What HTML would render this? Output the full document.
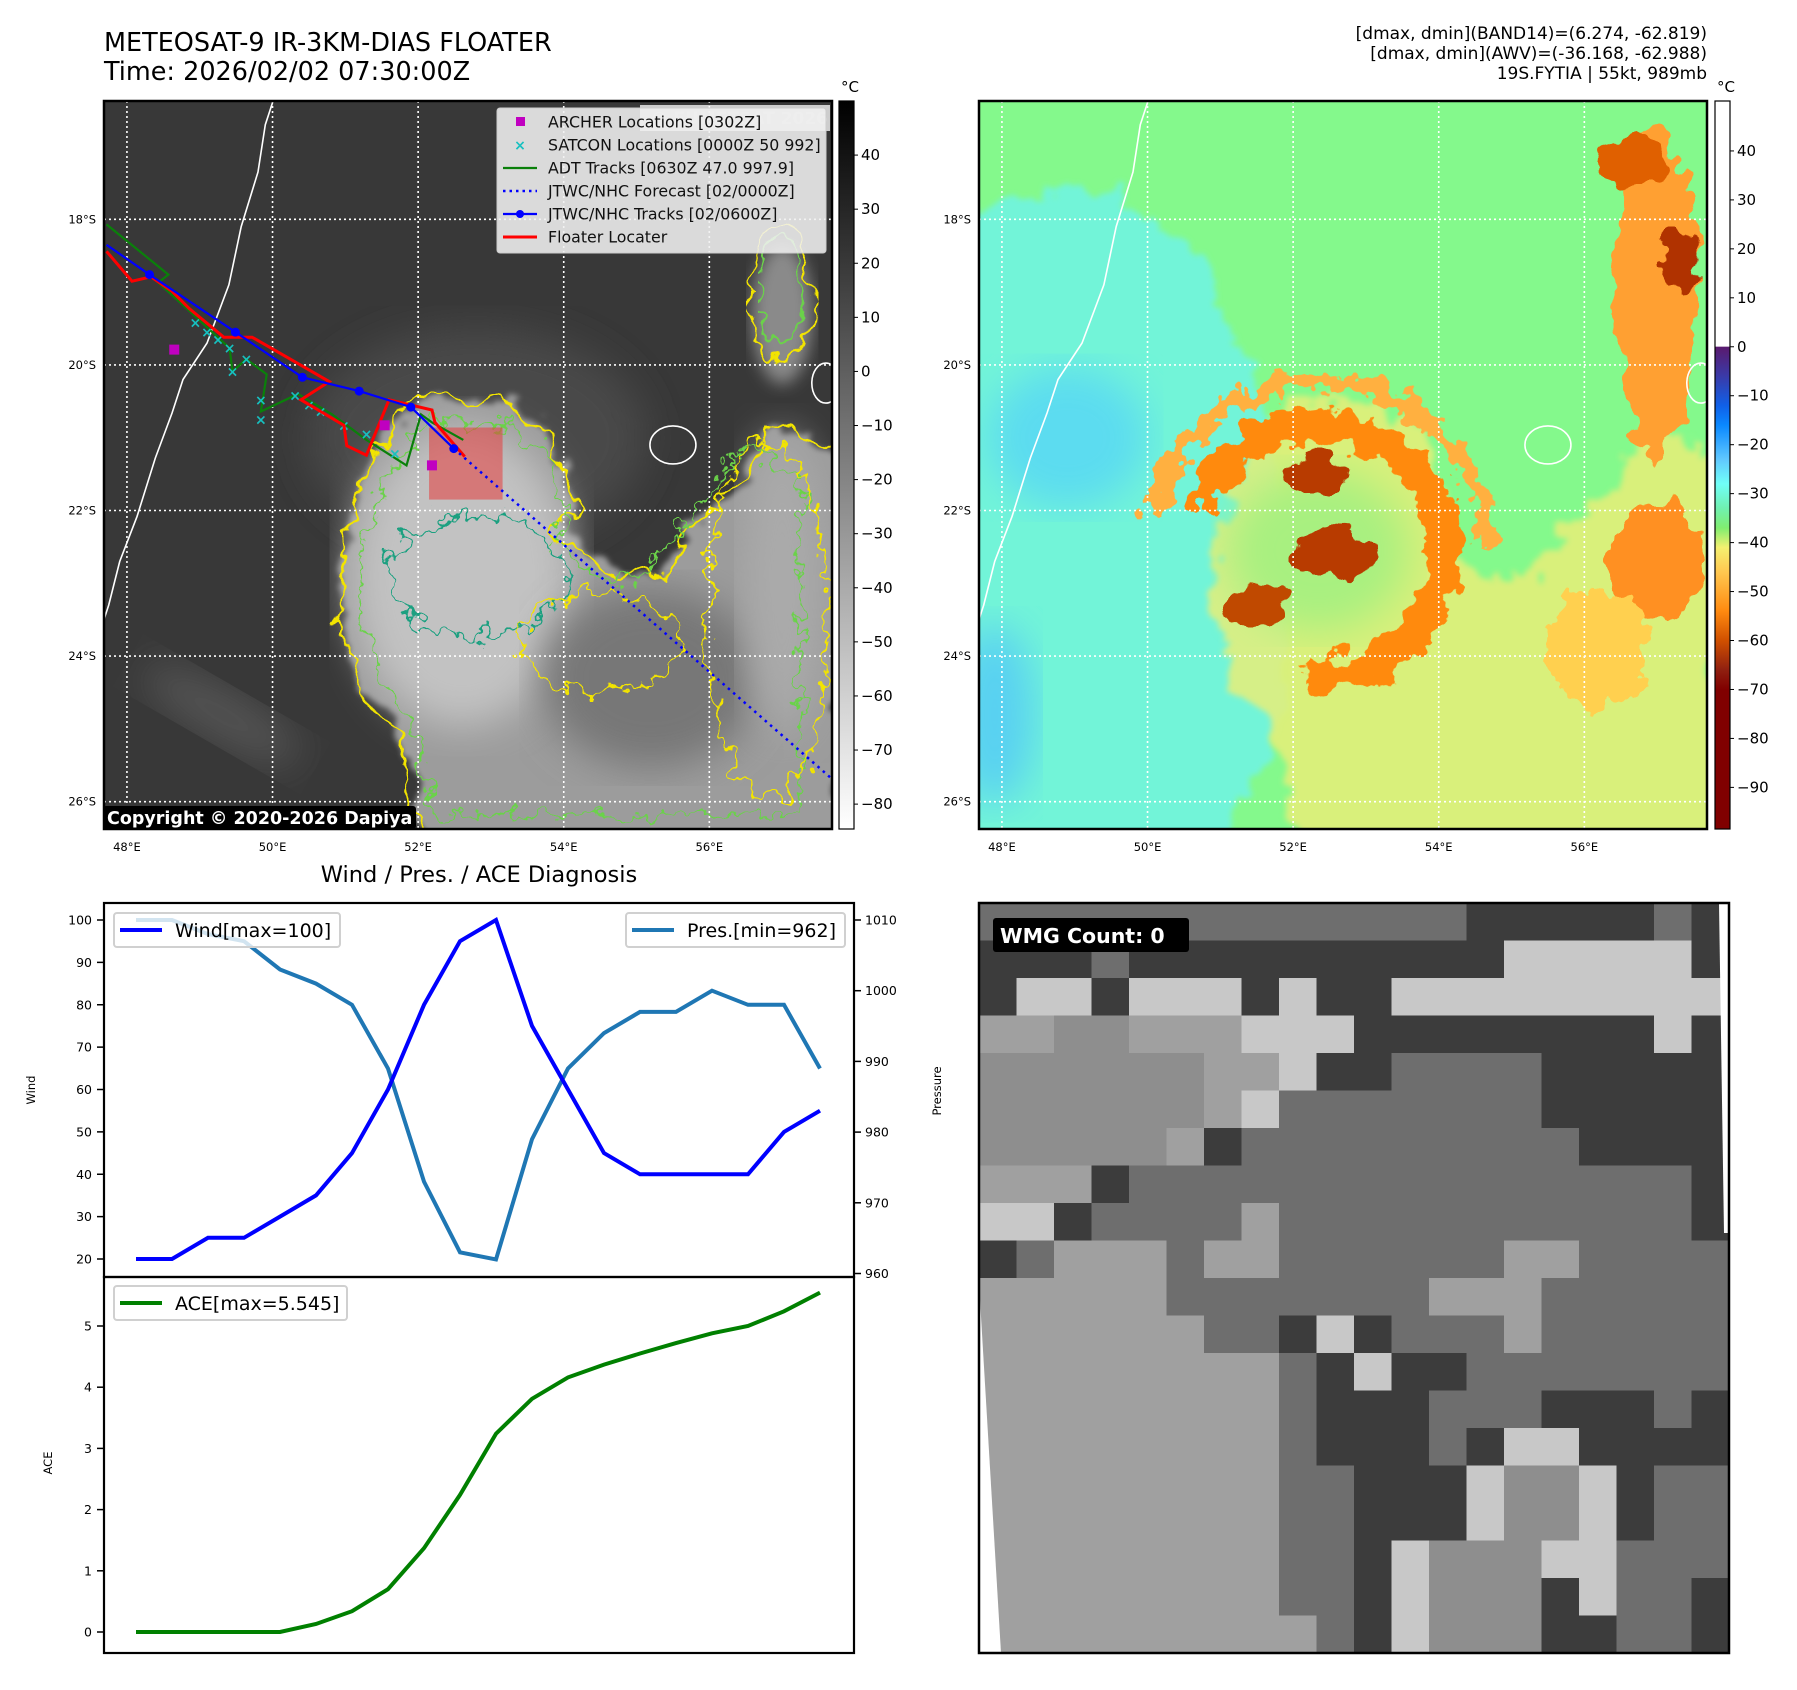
<!DOCTYPE html>
<html><head><meta charset="utf-8">
<style>
html,body{margin:0;padding:0;background:#fff;}
svg{display:block;font-family:"DejaVu Sans","Liberation Sans",sans-serif;}
</style></head>
<body>
<svg id="root" width="1797" height="1690" viewBox="0 0 1797 1690" xmlns="http://www.w3.org/2000/svg">
<defs>
  <filter id="wob" x="-10%" y="-10%" width="120%" height="120%">
    <feTurbulence type="fractalNoise" baseFrequency="0.035" numOctaves="3" seed="4" result="n"/>
    <feDisplacementMap in="SourceGraphic" in2="n" scale="34" xChannelSelector="R" yChannelSelector="G"/>
  </filter>
  <filter id="wob2" x="-10%" y="-10%" width="120%" height="120%">
    <feTurbulence type="fractalNoise" baseFrequency="0.05" numOctaves="3" seed="9" result="n"/>
    <feDisplacementMap in="SourceGraphic" in2="n" scale="40" xChannelSelector="R" yChannelSelector="G"/>
  </filter>
  <filter id="blur8"><feGaussianBlur stdDeviation="8"/></filter>
  <filter id="blur20"><feGaussianBlur stdDeviation="20"/></filter>
  <filter id="wobblur" x="-10%" y="-10%" width="120%" height="120%">
    <feTurbulence type="fractalNoise" baseFrequency="0.04" numOctaves="3" seed="2" result="n"/>
    <feDisplacementMap in="SourceGraphic" in2="n" scale="40" xChannelSelector="R" yChannelSelector="G" result="d"/>
    <feGaussianBlur in="d" stdDeviation="3"/>
  </filter>
  <clipPath id="clip1"><rect x="104" y="101" width="728" height="728"/></clipPath>
  <clipPath id="clip2"><rect x="979" y="101" width="728" height="728"/></clipPath>
  <clipPath id="clip3"><rect x="979" y="903" width="750" height="750"/></clipPath>
  <linearGradient id="cbGray" x1="0" y1="0" x2="0" y2="1">
    <stop offset="0" stop-color="#000"/><stop offset="1" stop-color="#fff"/>
  </linearGradient>
</defs>

<text x="104" y="51" font-size="25.5">METEOSAT-9 IR-3KM-DIAS FLOATER</text>
<text x="104" y="80" font-size="25.5">Time: 2026/02/02 07:30:00Z</text>
<g font-size="17" text-anchor="end">
  <text x="1707" y="39">[dmax, dmin](BAND14)=(6.274, -62.819)</text>
  <text x="1707" y="59">[dmax, dmin](AWV)=(-36.168, -62.988)</text>
  <text x="1707" y="79">19S.FYTIA | 55kt, 989mb</text>
</g>

<g id="map1"></g>
<g id="map2"></g>
<g id="cb1"></g>
<g id="cb2"></g>
<g id="diag"></g>
<g id="wmg"></g>
</svg>

<script>
// ---------------- DATA ----------------
var windValues = [20,20,25,25,30,35,45,60,80,95,100,75,60,45,40,40,40,40,50,55];
var presValues = [1010,1010,1008,1007,1003,1001,998,989,973,963,962,979,989,994,997,997,1000,998,998,989];
var aceValues  = [0,0,0,0,0,0.13,0.34,0.70,1.37,2.24,3.24,3.81,4.16,4.37,4.55,4.72,4.88,5.0,5.24,5.545];
var windTicks = [20,30,40,50,60,70,80,90,100];
var presTicks = [960,970,980,990,1000,1010];
var aceTicks  = [0,1,2,3,4,5];
var lonTicks = [48,50,52,54,56];
var latTicks = [18,20,22,24,26];
var grayCbTicks = [40,30,20,10,0,-10,-20,-30,-40,-50,-60,-70,-80];
var colorCbTicks = [40,30,20,10,0,-10,-20,-30,-40,-50,-60,-70,-80,-90];
var jtwcTrackLon = [47.72,48.31,49.49,50.41,51.19,51.90,52.49];
var jtwcTrackLat = [18.35,18.76,19.55,20.17,20.36,20.58,21.15];
var forecastLon = [52.49,57.70];
var forecastLat = [21.15,25.70];
var floaterLon = [47.72,48.07,48.33,48.62,48.86,49.33,49.72,50.78,50.39,50.66,50.98,51.02,51.29,51.60,52.19,52.23,52.64];
var floaterLat = [18.44,18.85,18.79,18.99,19.23,19.62,19.62,20.23,20.48,20.64,20.83,21.11,21.24,20.48,20.62,20.79,21.26];
var adtLon = [47.72,48.57,48.43,48.86,49.41,49.45,49.64,49.92,49.84,50.35,50.82,51.29,51.84,52.04,52.19,52.62];
var adtLat = [18.07,18.76,18.87,19.26,19.77,20.09,19.92,20.13,20.64,20.40,20.68,21.03,21.38,20.68,20.79,21.03];
var satconLon = [48.94,49.10,49.25,49.41,49.45,49.64,49.84,49.84,50.31,50.50,50.66,50.98,51.29,51.68];
var satconLat = [19.42,19.55,19.65,19.77,20.09,19.92,20.48,20.75,20.42,20.55,20.64,20.83,20.95,21.22];
var archerLon = [48.65,51.54,52.19];
var archerLat = [19.79,20.83,21.38];
var coastLon = [50.00,49.90,49.80,49.57,49.40,49.10,48.77,48.62,48.39,48.14,47.90,47.75,47.65];
var coastLat = [16.40,16.70,17.35,18.10,18.90,19.70,20.20,20.66,21.28,22.08,22.70,23.30,23.60];
var cloudLon = [51.95,53.21,53.84,54.16,53.92,54.63,55.34,55.73,56.13,56.52,56.84,57.31,57.80,57.80,52.11,51.79,51.24,50.92,51.00,51.40];
var cloudLat = [20.43,20.51,20.98,21.93,22.32,22.88,22.88,22.25,21.93,21.46,20.83,20.98,21.30,26.60,26.60,25.24,24.45,23.51,22.25,21.22];
var wmgGrid = [
"MMMMMMMMMMMMMDDDDDMD",
"DDDMDDDDDDDDDDWWWWWD",
"DWWDWWWDWDDWWWWWWWWW",
"LLGGLLLWWWDDDDDDDDWD",
"GGGGGGLLWDDMMMMDDDDD",
"GGGGGGLWMMMMMMMDDDDD",
"GGGGGLDMMMMMMMMMDDDD",
"LLLDMMMMMMMMMMMMMMMD",
"WWDMMMMLMMMMMMMMMMMD",
"DMLLLMLLMMMMMMLLMMMM",
"LLLLLMMMMMMMLLLMMMMM",
"LLLLLLMMDWDMMMLMMMMM",
"LLLLLLLLMDWDDMMMMMMM",
"LLLLLLLLMDDDMMMDDDMD",
"LLLLLLLLMDDDMDWWDDDD",
"LLLLLLLLMMDDDWGGWDMM",
"LLLLLLLLMMDDDWGGWDMM",
"LLLLLLLLMMDWGGGWWMMM",
"LLLLLLLLMMDWGGGDWMMD",
"LLLLLLLLLMDWGGGDDMMD"];

// ---------------- HELPERS ----------------
var NS = "http://www.w3.org/2000/svg";
function mk(tag, attrs, parent){
  var e = document.createElementNS(NS, tag);
  for (var k in attrs) e.setAttribute(k, attrs[k]);
  if (parent) parent.appendChild(e);
  return e;
}
var MAP_LON0 = 47.685, MAP_LAT0 = 16.375, DEG = 72.8, MAP_TOP = 101;
function mx(lon, off){ return off + (lon - MAP_LON0) * DEG; }
function my(lat){ return MAP_TOP + (lat - MAP_LAT0) * DEG; }
function pts(lons, lats, off){
  var s = [];
  for (var i = 0; i < lons.length; i++) s.push(mx(lons[i], off).toFixed(1) + "," + my(lats[i]).toFixed(1));
  return s.join(" ");
}

// ---------------- MAPS ----------------
function drawMap(gid, off, clipId, enhanced){
  var root = document.getElementById(gid);
  var g = mk("g", {"clip-path": "url(#" + clipId + ")"}, root);
  var cloudPts = pts(cloudLon, cloudLat, off);
  var cx = mx(53.2, off), cy = my(23.2);
  if (!enhanced){
    var bg = mk("rect", {x: off, y: 101, width: 728, height: 728, fill: "#383838"}, g);
    
    
    mk("ellipse", {cx: mx(49.3, off), cy: my(24.8), rx: 90, ry: 25, fill: "#555", filter: "url(#blur20)", transform: "rotate(30 " + mx(49.3, off) + " " + my(24.8) + ")"}, g);
    mk("ellipse", {cx: mx(52.8, off), cy: my(21.0), rx: 170, ry: 110, fill: "#4a4a4a", filter: "url(#blur20)"}, g);
    var cl = mk("polygon", {points: cloudPts, fill: "#9c9c9c", filter: "url(#wobblur)"}, g);
    
    
    mk("ellipse", {cx: mx(52.6, off), cy: my(22.9), rx: 110, ry: 150, fill: "#c2c2c2", filter: "url(#blur20)"}, g);
    mk("ellipse", {cx: mx(55.2, off), cy: my(24.3), rx: 110, ry: 90, fill: "#777", filter: "url(#blur20)"}, g);
    mk("ellipse", {cx: mx(57.0, off), cy: my(23.0), rx: 40, ry: 150, fill: "#aaa", filter: "url(#blur20)"}, g);
    mk("ellipse", {cx: mx(57.0, off), cy: my(19.3), rx: 30, ry: 70, fill: "#8a8a8a", filter: "url(#blur8)"}, g);
    var yc = mk("polygon", {points: cloudPts, fill: "none", stroke: "#f2e400", "stroke-width": 2.5, filter: "url(#wob)"}, g);
    
    
    var gc = mk("polygon", {points: cloudPts, fill: "none", stroke: "#6bd24a", "stroke-width": 2.2, filter: "url(#wob2)", transform: "translate(" + (cx*0.12) + "," + (cy*0.12) + ") scale(0.88)"}, g);
    
    
    mk("ellipse", {cx: mx(52.8, off), cy: my(22.9), rx: 90, ry: 60, fill: "none", stroke: "#1aa080", "stroke-width": 2.2, filter: "url(#wob2)"}, g);
    mk("ellipse", {cx: mx(54.5, off), cy: my(23.8), rx: 80, ry: 50, fill: "none", stroke: "#f2e400", "stroke-width": 2.2, filter: "url(#wob2)"}, g);
    mk("ellipse", {cx: mx(57.0, off), cy: my(19.0), rx: 30, ry: 70, fill: "none", stroke: "#f2e400", "stroke-width": 2.5, filter: "url(#wob)"}, g);
    mk("ellipse", {cx: mx(57.0, off), cy: my(19.0), rx: 20, ry: 55, fill: "none", stroke: "#6bd24a", "stroke-width": 2.2, filter: "url(#wob)"}, g);
    mk("ellipse", {cx: mx(56.8, off), cy: my(23.5), rx: 60, ry: 180, fill: "none", stroke: "#f2e400", "stroke-width": 2.5, filter: "url(#wob2)"}, g);
  } else {
    var bg2 = mk("rect", {x: off, y: 101, width: 728, height: 728, fill: "#84f98c"}, g);
    
    
    var cy1 = mk("polygon", {points: pts([47.5,49.5,50.8,51.6,52.0,51.8,51.0,47.5],[17.8,17.6,18.6,20.5,22.5,25.0,26.8,26.8], off), fill: "#72f4d8", filter: "url(#wobblur)"}, g);
    
    
    mk("ellipse", {cx: mx(48.9, off), cy: my(21.0), rx: 80, ry: 70, fill: "#5cdcf0", filter: "url(#blur20)"}, g);
    mk("ellipse", {cx: mx(47.9, off), cy: my(24.8), rx: 40, ry: 90, fill: "#58d0f2", filter: "url(#blur20)"}, g);
    var c2 = mk("polygon", {points: cloudPts, fill: "#e8ee78", "fill-opacity": 0.85, filter: "url(#wobblur)"}, g);
    
    
    mk("ellipse", {cx: mx(52.35, off), cy: my(22.55), rx: 90, ry: 80, fill: "#a8f080", filter: "url(#blur20)"}, g);
    mk("ellipse", {cx: mx(57.0, off), cy: my(19.0), rx: 40, ry: 170, fill: "#ffa030", filter: "url(#wob)"}, g);
    mk("ellipse", {cx: mx(57.0, off), cy: my(22.7), rx: 45, ry: 60, fill: "#ff9020", filter: "url(#wob)"}, g);
    var ring = mk("circle", {cx: mx(52.35, off), cy: my(22.55), r: 125, fill: "none", stroke: "#ff8a10", "stroke-width": 34, "stroke-dasharray": "560 300", transform: "rotate(200 " + mx(52.35, off) + " " + my(22.55) + ")", filter: "url(#wob2)"}, g);
    
    
    mk("circle", {cx: mx(52.35, off), cy: my(22.55), r: 170, fill: "none", stroke: "#ffb040", "stroke-width": 18, "stroke-dasharray": "500 570", transform: "rotate(190 " + mx(52.35, off) + " " + my(22.55) + ")", filter: "url(#wob2)"}, g);
    mk("ellipse", {cx: mx(52.3, off), cy: my(21.5), rx: 30, ry: 22, fill: "#b83a00", filter: "url(#wob)"}, g);
    mk("ellipse", {cx: mx(52.6, off), cy: my(22.6), rx: 40, ry: 26, fill: "#b83a00", filter: "url(#wob)"}, g);
    mk("ellipse", {cx: mx(51.5, off), cy: my(23.3), rx: 30, ry: 20, fill: "#c04800", filter: "url(#wob)"}, g);
    mk("ellipse", {cx: mx(57.3, off), cy: my(18.6), rx: 20, ry: 30, fill: "#b03000", filter: "url(#wob)"}, g);
    mk("ellipse", {cx: mx(56.7, off), cy: my(17.2), rx: 40, ry: 25, fill: "#e06000", filter: "url(#wob)"}, g);
    mk("ellipse", {cx: mx(56.2, off), cy: my(23.9), rx: 50, ry: 60, fill: "#ffd050", filter: "url(#wob2)"}, g);
  }
  for (var i = 0; i < lonTicks.length; i++){
    var x = mx(lonTicks[i], off);
    var gl = mk("line", {x1: x, y1: 101, x2: x, y2: 829, stroke: "#fff", "stroke-width": 1.6, "stroke-dasharray": "2,3"}, g);
    
    
  }
  for (var j = 0; j < latTicks.length; j++){
    var y = my(latTicks[j]);
    var gl2 = mk("line", {x1: off, y1: y, x2: off + 728, y2: y, stroke: "#fff", "stroke-width": 1.6, "stroke-dasharray": "2,3"}, g);
    
    
  }
  var coast = mk("polyline", {points: pts(coastLon, coastLat, off), fill: "none", stroke: "#fff", "stroke-width": 1.6}, g);
  
  
  var reu = mk("ellipse", {cx: mx(55.5, off), cy: my(21.1), rx: 23, ry: 19, fill: "none", stroke: "#fff", "stroke-width": 1.6}, g);
  
  
  var mau = mk("ellipse", {cx: mx(57.6, off), cy: my(20.25), rx: 14, ry: 20, fill: "none", stroke: "#fff", "stroke-width": 1.6}, g);
  
  

  if (!enhanced){
    var fb = mk("rect", {x: mx(52.15, off), y: my(20.86), width: 1.01*DEG, height: 0.99*DEG, fill: "rgba(230,60,60,0.55)"}, g);
    
    
    var adt = mk("polyline", {points: pts(adtLon, adtLat, off), fill: "none", stroke: "#0a800a", "stroke-width": 2.2}, g);
    
    
    for (var s = 0; s < satconLon.length; s++){
      var sx = mx(satconLon[s], off), sy = my(satconLat[s]);
      var sm = mk("text", {x: sx, y: sy + 5, "font-size": 14, "font-weight": "bold", fill: "#17c0c0", "text-anchor": "middle"}, g);
      sm.textContent = "×";
      
      
    }
    var fl = mk("polyline", {points: pts(floaterLon, floaterLat, off), fill: "none", stroke: "#ff0000", "stroke-width": 3}, g);
    
    
    var jt = mk("polyline", {points: pts(jtwcTrackLon, jtwcTrackLat, off), fill: "none", stroke: "#0000ff", "stroke-width": 2.2}, g);
    
    
    for (var k = 1; k < jtwcTrackLon.length; k++){
      var dot = mk("circle", {cx: mx(jtwcTrackLon[k], off), cy: my(jtwcTrackLat[k]), r: 4.5, fill: "#0000ff"}, g);
      
      
    }
    var fc = mk("polyline", {points: pts(forecastLon, forecastLat, off), fill: "none", stroke: "#0000ff", "stroke-width": 2.5, "stroke-dasharray": "2.5,4.5"}, g);
    
    
    for (var a = 0; a < archerLon.length; a++){
      var am = mk("rect", {x: mx(archerLon[a], off) - 5, y: my(archerLat[a]) - 5, width: 10, height: 10, fill: "#c000c0"}, g);
      
      
    }
    mk("rect", {x: 640, y: 105, width: 190, height: 26, fill: "rgba(255,255,255,0.75)"}, g);
    var wmt = mk("text", {x: 828, y: 124, "font-size": 17, "font-weight": "bold", fill: "#d8d8d8", "text-anchor": "end"}, g);
    wmt.textContent = "© EUMETSAT 2026";
    
    
    var lg = mk("g", {}, root);
    
    
    mk("rect", {x: 497, y: 108, width: 329, height: 145, rx: 3, fill: "rgba(240,240,240,0.88)", stroke: "#ccc", "stroke-width": 1}, lg);
    var labels = ["ARCHER Locations [0302Z]","SATCON Locations [0000Z 50 992]","ADT Tracks [0630Z 47.0 997.9]","JTWC/NHC Forecast [02/0000Z]","JTWC/NHC Tracks [02/0600Z]","Floater Locater"];
    for (var L = 0; L < labels.length; L++){
      var yy = 122 + L*23;
      var row = mk("g", {}, lg);
      
      
      if (L === 0) mk("rect", {x: 516, y: yy - 5, width: 9, height: 9, fill: "#c000c0"}, row);
      if (L === 1){ var t1 = mk("text", {x: 520, y: yy + 5, "font-size": 14, "font-weight": "bold", fill: "#17c0c0", "text-anchor": "middle"}, row); t1.textContent = "×"; }
      if (L === 2) mk("line", {x1: 503, y1: yy, x2: 537, y2: yy, stroke: "#0a800a", "stroke-width": 2.2}, row);
      if (L === 3) mk("line", {x1: 503, y1: yy, x2: 537, y2: yy, stroke: "#0000ff", "stroke-width": 2.5, "stroke-dasharray": "2.5,4"}, row);
      if (L === 4){ mk("line", {x1: 503, y1: yy, x2: 537, y2: yy, stroke: "#0000ff", "stroke-width": 2.2}, row); mk("circle", {cx: 520, cy: yy, r: 4, fill: "#0000ff"}, row); }
      if (L === 5) mk("line", {x1: 503, y1: yy, x2: 537, y2: yy, stroke: "#ff0000", "stroke-width": 3}, row);
      var tt = mk("text", {x: 548, y: yy + 5.5, "font-size": 15.8, fill: "#111"}, row);
      tt.textContent = labels[L];
    }
    var cb = mk("g", {}, root);
    
    
    mk("rect", {x: 103, y: 806, width: 313, height: 23, rx: 3, fill: "#000"}, cb);
    var ct = mk("text", {x: 107, y: 824, "font-size": 17.5, "font-weight": "bold", fill: "#fff"}, cb);
    ct.textContent = "Copyright © 2020-2026 Dapiya";
  }
  var fr = mk("rect", {x: off, y: 101, width: 728, height: 728, fill: "none", stroke: "#000", "stroke-width": 2.5}, root);
  
  
  for (var p = 0; p < lonTicks.length; p++){
    var lt = mk("text", {x: mx(lonTicks[p], off), y: 851, "font-size": 11.5, "text-anchor": "middle"}, root);
    lt.textContent = lonTicks[p] + "°E";
    
    
  }
  for (var q = 0; q < latTicks.length; q++){
    var la = mk("text", {x: off - 8, y: my(latTicks[q]) + 4, "font-size": 11.5, "text-anchor": "end"}, root);
    la.textContent = latTicks[q] + "°S";
    
    
  }
}
drawMap("map1", 104, "clip1", false);
drawMap("map2", 979, "clip2", true);

// ---------------- COLORBARS ----------------
function drawColorbar(gid, x0, vmax, vmin, ticks, gradId, stops){
  var root = document.getElementById(gid);
  var H = 728, top = 101;
  function cy(v){ return top + (vmax - v) / (vmax - vmin) * H; }
  if (stops){
    var grad = mk("linearGradient", {id: gradId, x1: 0, y1: 0, x2: 0, y2: 1}, document.querySelector("defs"));
    for (var i = 0; i < stops.length; i++){
      mk("stop", {offset: ((vmax - stops[i][0]) / (vmax - vmin)).toFixed(4), "stop-color": stops[i][1]}, grad);
    }
  }
  var r = mk("rect", {x: x0, y: top, width: 15, height: H, fill: "url(#" + gradId + ")", stroke: "#000", "stroke-width": 1.2}, root);
  
  
  for (var t = 0; t < ticks.length; t++){
    var y = cy(ticks[t]);
    mk("line", {x1: x0 + 15, y1: y, x2: x0 + 19, y2: y, stroke: "#000", "stroke-width": 1}, root);
    var lb = mk("text", {x: x0 + 22, y: y + 5, "font-size": 15}, root);
    lb.textContent = (ticks[t] < 0 ? "\u2212" + (-ticks[t]) : ticks[t]);
    
    
  }
  var u = mk("text", {x: x0 + 2, y: 92, "font-size": 15}, root);
  u.textContent = "°C";
  
  
}
drawColorbar("cb1", 839, 50, -84.6, grayCbTicks, "cbGray", null);
drawColorbar("cb2", 1715, 50.2, -98.5, colorCbTicks, "cbColorReal",
  [[50.2,"#ffffff"],[0.01,"#ffffff"],[0,"#5a1a6e"],[-6,"#3a3aa8"],[-12,"#1060e8"],[-16,"#0a88ff"],[-23,"#60c8ff"],[-28,"#70fff8"],[-33,"#70f0b0"],[-37,"#80ee70"],[-41,"#f4f070"],[-46,"#ffc850"],[-54,"#ff8a10"],[-60,"#d05000"],[-66,"#902010"],[-70,"#800000"],[-98.5,"#800000"]]);

// ---------------- WIND / PRES / ACE ----------------
(function(){
  var root = document.getElementById("diag");
  var L = 104, R = 854, T = 903, M = 1277, B = 1653;
  var n = windValues.length;
  function xi(i){ return 136 + i * (820 - 136) / (n - 1); }
  function yW(v){ return 920 + (100 - v) * (1259 - 920) / 80; }
  function yP(v){ return 920 + (1010 - v) * (1273.5 - 920) / 50; }
  function yA(v){ return 1632 - v * (1632 - 1326) / 5; }
  var tt = mk("text", {x: 479, y: 882, "font-size": 22.5, "text-anchor": "middle"}, root);
  tt.textContent = "Wind / Pres. / ACE Diagnosis";
  
  
  function line(vals, f, color, w, name){
    var s = [];
    for (var i = 0; i < vals.length; i++) s.push(xi(i).toFixed(1) + "," + f(vals[i]).toFixed(1));
    var p = mk("polyline", {points: s.join(" "), fill: "none", stroke: color, "stroke-width": w}, root);
    
    
  }
  line(presValues, yP, "#1f77b4", 4, "pressure-line");
  line(windValues, yW, "#0000ff", 4, "wind-line");
  line(aceValues, yA, "#008000", 4, "ace-line");
  var f1 = mk("rect", {x: L, y: T, width: R - L, height: M - T, fill: "none", stroke: "#000", "stroke-width": 2.2}, root);
  
  
  var f2 = mk("rect", {x: L, y: M, width: R - L, height: B - M, fill: "none", stroke: "#000", "stroke-width": 2.2}, root);
  
  
  function ticksLeft(arr, f, name){
    for (var i = 0; i < arr.length; i++){
      var y = f(arr[i]);
      mk("line", {x1: L - 7, y1: y, x2: L, y2: y, stroke: "#000", "stroke-width": 1.5}, root);
      var t = mk("text", {x: L - 12, y: y + 4.5, "font-size": 12.5, "text-anchor": "end"}, root);
      t.textContent = arr[i];
      
      
    }
  }
  ticksLeft(windTicks, yW, "wind-tick-label");
  ticksLeft(aceTicks, yA, "ace-tick-label");
  for (var i = 0; i < presTicks.length; i++){
    var y = yP(presTicks[i]);
    mk("line", {x1: R, y1: y, x2: R + 7, y2: y, stroke: "#000", "stroke-width": 1.5}, root);
    var t = mk("text", {x: R + 11, y: y + 4.5, "font-size": 12.5}, root);
    t.textContent = presTicks[i];
    
    
  }
  var a1 = mk("text", {x: 0, y: 0, "font-size": 11.5, "text-anchor": "middle", transform: "translate(35,1090) rotate(-90)"}, root);
  a1.textContent = "Wind";
  
  
  var a2 = mk("text", {x: 0, y: 0, "font-size": 11.5, "text-anchor": "middle", transform: "translate(941,1091) rotate(-90)"}, root);
  a2.textContent = "Pressure";
  
  
  var a3 = mk("text", {x: 0, y: 0, "font-size": 11.5, "text-anchor": "middle", transform: "translate(52,1463) rotate(-90)"}, root);
  a3.textContent = "ACE";
  
  
  function legend(x, y, w, color, label, name){
    var g = mk("g", {}, root);
    
    
    mk("rect", {x: x, y: y, width: w, height: 34, rx: 3, fill: "rgba(255,255,255,0.8)", stroke: "#d0d0d0", "stroke-width": 2}, g);
    mk("line", {x1: x + 6, y1: y + 17, x2: x + 48, y2: y + 17, stroke: color, "stroke-width": 4}, g);
    var t = mk("text", {x: x + 61, y: y + 24, "font-size": 19}, g);
    t.textContent = label;
  }
  legend(114, 913, 226, "#0000ff", "Wind[max=100]", "wind-legend");
  legend(626, 913, 219, "#1f77b4", "Pres.[min=962]", "pressure-legend");
  legend(114, 1286, 233, "#008000", "ACE[max=5.545]", "ace-legend");
})();

// ---------------- WMG PANEL ----------------
(function(){
  var root = document.getElementById("wmg");
  var colors = {D: "#3c3c3c", M: "#6e6e6e", G: "#8e8e8e", L: "#a0a0a0", W: "#c8c8c8"};
  var g = mk("g", {"clip-path": "url(#clip3)"}, root);
  var x0 = 979, y0 = 903, S = 750, rows = wmgGrid.length;
  var cell = S / rows;
  for (var r = 0; r < rows; r++){
    var row = wmgGrid[r];
    for (var c = 0; c < 20; c++){
      var ch = row.charAt(c) || "M";
      var rc = mk("rect", {x: (x0 + c * cell).toFixed(1), y: (y0 + r * cell).toFixed(1), width: (cell + 0.6).toFixed(1), height: (cell + 0.6).toFixed(1), fill: colors[ch]}, g);
      
      
    }
  }
  mk("polygon", {points: x0 + "," + (y0 + 380) + " " + (x0 + 22) + "," + (y0 + 750) + " " + x0 + "," + (y0 + 750), fill: "#fff"}, g);
  mk("polygon", {points: (x0 + 750) + "," + y0 + " " + (x0 + 740) + "," + y0 + " " + (x0 + 745) + "," + (y0 + 330) + " " + (x0 + 750) + "," + (y0 + 330), fill: "#fff"}, g);
  var fr = mk("rect", {x: x0, y: y0, width: S, height: S, fill: "none", stroke: "#000", "stroke-width": 2.5}, root);
  
  
  var lb = mk("g", {}, root);
  
  
  mk("rect", {x: 993, y: 918, width: 196, height: 34, rx: 3, fill: "#000"}, lb);
  var t = mk("text", {x: 1000, y: 943, "font-size": 20.5, "font-weight": "bold", fill: "#fff"}, lb);
  t.textContent = "WMG Count: 0";
})();
</script>
</body></html>
